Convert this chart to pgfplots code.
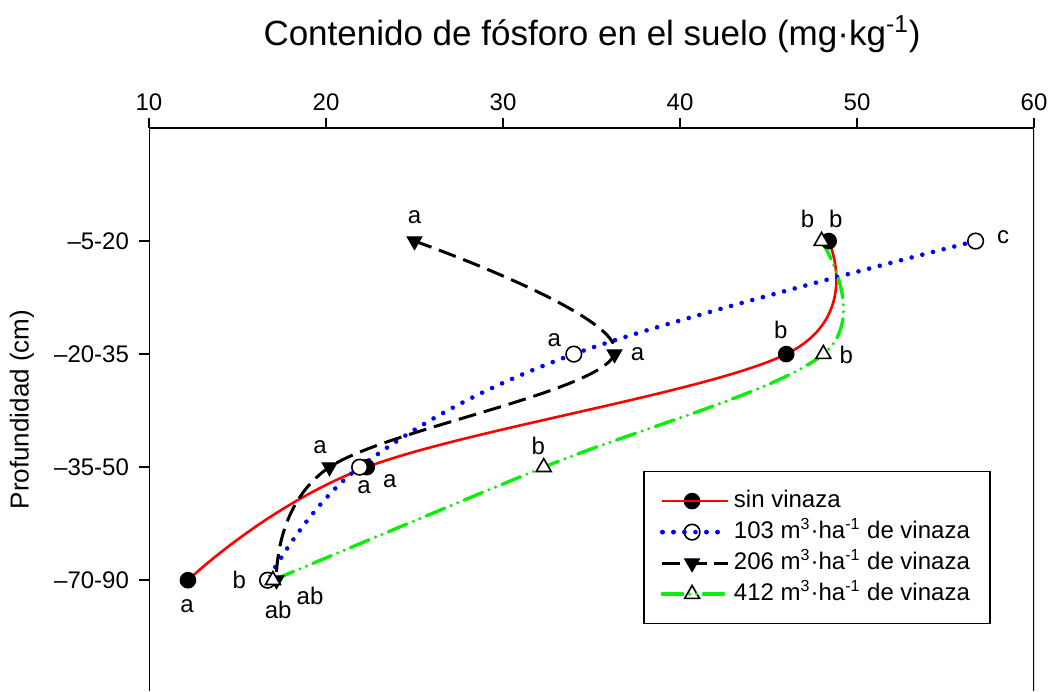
\documentclass[border=0pt]{standalone}
\usepackage{fontspec}
\setmainfont{Liberation Sans}
\usepackage{pgfplots}
\usepackage{pgfplotstable}
\pgfplotsset{compat=1.18}
\usetikzlibrary{calc}

\definecolor{serRed}{RGB}{255,0,0}
\definecolor{serBlue}{RGB}{0,0,255}
\definecolor{serGreen}{RGB}{10,240,10}

% Phosphorus content (mg/kg) by depth layer (1 = 5-20 cm ... 4 = 70-90 cm)
\pgfplotstableread{
y    x
-1   48.4
-2   46.0
-3   22.3
-4   12.2
}\sinvinaza
\pgfplotstableread{
y    x
-1   56.7
-2   34.0
-3   21.9
-4   16.7
}\dosisA
\pgfplotstableread{
y    x
-1   25.0
-2   36.3
-3   20.2
-4   17.2
}\dosisB
\pgfplotstableread{
y    x
-1   48.0
-2   48.1
-3   32.3
-4   17.0
}\dosisC

\begin{document}
\begin{tikzpicture}
\begin{axis}[
  scale only axis,
  width=442.5pt, height=281.5pt,
  xmin=10, xmax=60, ymin=-4.98, ymax=0,
  xtick={10,20,...,60},
  ytick={-4,-3,-2,-1},
  yticklabels={\textendash70-90,\textendash35-50,\textendash20-35,\textendash5-20},
  xtick pos=upper, xticklabel pos=upper,
  ytick pos=lower, yticklabel pos=lower,
  tick align=outside,
  major tick length=5pt,
  minor tick num=0,
  axis line style={draw=none},
  tick style={line width=0.8pt, black},
  tick label style={font=\fontsize{12}{14}\selectfont},
  yticklabel style={xshift=-1.5pt},
  /pgf/number format/assume math mode=true,
  title={Contenido de fósforo en el suelo (mg·kg\textsuperscript{-1})},
  title style={at={(rel axis cs:0.5006,1)}, anchor=center, yshift=41pt,
               font=\fontsize{17.5}{21}\selectfont},
  ylabel={Profundidad (cm)},
  ylabel style={at={(axis description cs:-0.1435,0.5)}, anchor=center,
                font=\fontsize{13}{15}\selectfont},
  legend image code/.code={
    \draw[mark repeat=2, mark phase=2] plot coordinates {(0cm,0cm) (0.52cm,0cm) (1.04cm,0cm)};
    \path (0cm,0cm) -- (1.04cm+3pt,0cm);
  },
  legend cell align=left,
  legend style={
    at={(rel axis cs:0.951,0.391)}, anchor=north east,
    draw=black, line width=0.75pt,
    font=\fontsize{12}{14.5}\selectfont,
    inner xsep=8pt, inner ysep=7pt,
    row sep=0pt,
    nodes={inner sep=2pt, text height=9pt, text depth=2.5pt},
  },
  every axis plot/.append style={smooth, tension=0.6},
]

\addplot[serRed, line width=1.3pt, mark=*, mark size=3.5pt,
  mark options={solid, fill=black, draw=black}]
  table[x=x, y=y] {\sinvinaza};
\addlegendentry{sin vinaza}

\addplot[serBlue, line width=2.3pt, line cap=round, dash pattern=on 0pt off 5.5pt,
  mark=*, mark size=3.9pt,
  mark options={solid, fill=white, draw=black, line width=0.8pt}]
  table[x=x, y=y] {\dosisA};
\addlegendentry{103 m\textsuperscript{3}·ha\textsuperscript{-1} de vinaza}

\addplot[black, line width=1.5pt, dash pattern=on 9pt off 4pt,
  mark=triangle*, mark size=4.3pt,
  mark options={solid, rotate=180, fill=black, draw=black, line width=0.5pt}]
  table[x=x, y=y] {\dosisB};
\addlegendentry{206 m\textsuperscript{3}·ha\textsuperscript{-1} de vinaza}

\addplot[serGreen, line width=1.7pt, line cap=round,
  dash pattern=on 10pt off 3.5pt on 0pt off 3.5pt on 0pt off 3.5pt,
  mark=triangle*, mark size=4.3pt,
  mark options={solid, fill=white, draw=black, line width=0.8pt}]
  table[x=x, y=y] {\dosisC};
\addlegendentry{412 m\textsuperscript{3}·ha\textsuperscript{-1} de vinaza}

% frame: left, top and right edges
\draw[line width=0.8pt, black] (rel axis cs:0,0) -- (rel axis cs:0,1)
  -- (rel axis cs:1,1) -- (rel axis cs:1,0);

% significance letters
\begin{scope}[every node/.style={font=\fontsize{12}{14}\selectfont, inner sep=0pt}]
  % sin vinaza
  \node at (axis cs:48.8,-0.80) {b};
  \node at (axis cs:45.7,-1.79) {b};
  \node at (axis cs:23.6,-3.12) {a};
  \node at (axis cs:12.15,-4.23) {a};
  % 103
  \node at (axis cs:58.25,-0.97) {c};
  \node at (axis cs:32.9,-1.88) {a};
  \node at (axis cs:22.15,-3.18) {a};
  \node at (axis cs:15.1,-4.0) {b};
  % 206
  \node at (axis cs:25.0,-0.79) {a};
  \node at (axis cs:37.6,-2.0) {a};
  \node at (axis cs:19.66,-2.82) {a};
  \node at (axis cs:17.3,-4.26) {ab};
  % 412
  \node at (axis cs:47.2,-0.80) {b};
  \node at (axis cs:49.4,-2.01) {b};
  \node at (axis cs:32.0,-2.81) {b};
  \node at (axis cs:19.1,-4.14) {ab};
\end{scope}

\coordinate (TL) at (rel axis cs:0,1);
\coordinate (BR) at (rel axis cs:1,0);
\end{axis}
\pgfresetboundingbox
\useasboundingbox ($(TL)+(-74.5pt,64pt)$) rectangle ($(BR)+(8.5pt,0pt)$);
\end{tikzpicture}
\end{document}
